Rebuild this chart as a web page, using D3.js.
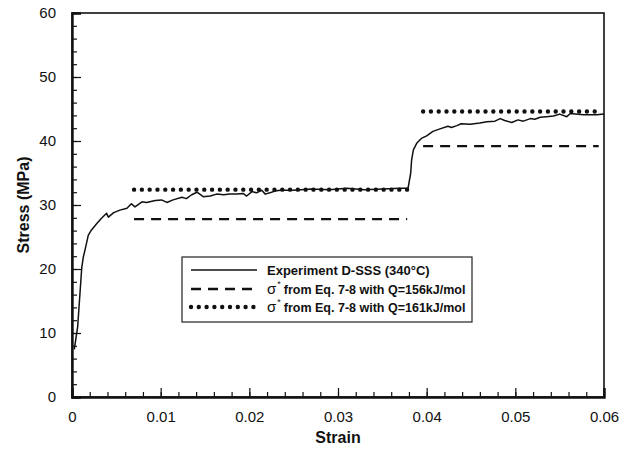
<!DOCTYPE html>
<html>
<head>
<meta charset="utf-8">
<script src="https://cdn.jsdelivr.net/npm/d3@7"></script>
<style>
  html, body { margin: 0; padding: 0; background: #fff; }
  svg { display: block; font-family: "Liberation Sans", Arial, Helvetica, sans-serif; }
</style>
</head>
<body>
<svg id="chart" width="639" height="451"></svg>
<script>
// Measured stress-strain curve (strain, stress in MPa)
const expStrain = [0.00026, 0.00064, 0.0009, 0.0011, 0.00128, 0.00147, 0.00184, 0.0022, 0.0028, 0.0033,
  0.0039, 0.0041, 0.0047, 0.0054, 0.0062, 0.0067, 0.0071, 0.0079, 0.0084, 0.0094,
  0.0101, 0.0107, 0.0114, 0.0124, 0.0129, 0.0135, 0.0141, 0.0148, 0.0156, 0.0163,
  0.0171, 0.0178, 0.0186, 0.0193, 0.0197, 0.0203, 0.0208, 0.0214, 0.0218, 0.0223,
  0.0229, 0.0235, 0.025, 0.027, 0.029, 0.031, 0.033, 0.035, 0.037, 0.0379,
  0.0382, 0.0383, 0.0385, 0.0389, 0.0394, 0.04, 0.0407, 0.0415, 0.0424, 0.0428,
  0.0434, 0.0439, 0.0449, 0.046, 0.0468, 0.0477, 0.0483, 0.0488, 0.0496, 0.0503,
  0.0509, 0.0517, 0.0522, 0.0528, 0.0535, 0.0543, 0.055, 0.0558, 0.0562, 0.0577,
  0.0592, 0.06];
const expStress = [7.45, 11, 16.2, 20.2, 21.9, 23, 25.3, 26.1, 27.1, 27.9,
  28.7, 28.1, 28.8, 29.2, 29.5, 30.2, 29.7, 30.5, 30.4, 30.7,
  30.8, 30.4, 30.8, 31.2, 31.0, 31.6, 32.0, 31.3, 31.4, 31.7,
  31.6, 31.7, 31.7, 31.8, 31.4, 32.1, 31.9, 32.3, 31.7, 31.9,
  32.2, 32.3, 32.3, 32.5, 32.4, 32.6, 32.4, 32.5, 32.6, 32.6,
  35, 37, 38.6, 39.7, 40.4, 40.8, 41.5, 41.9, 42.3, 42.1,
  42.4, 42.7, 42.6, 42.8, 43.0, 43.1, 43.5, 43.2, 42.9, 43.3,
  43.1, 43.5, 43.4, 43.7, 43.8, 43.9, 44.2, 43.8, 44.3, 44.1,
  44.1, 44.2];

// Model predictions of sigma* for two activation energies (one level per strain segment)
const segStart = [0.007, 0.0396];
const segEnd = [0.0378, 0.0594];
const sigmaQ156 = [27.8, 39.2];
const sigmaQ161 = [32.4, 44.6];

const xTicks = [0, 0.01, 0.02, 0.03, 0.04, 0.05, 0.06];
const yTicks = [0, 10, 20, 30, 40, 50, 60];
const legendLabels = ["Experiment D-SSS (340\u00B0C)", "from Eq. 7-8 with Q=156kJ/mol", "from Eq. 7-8 with Q=161kJ/mol"];

const svg = d3.select("#chart");
const m = { left: 72, top: 13, right: 604, bottom: 397 };

const x = d3.scaleLinear().domain([0, 0.06]).range([m.left, m.right]);
const y = d3.scaleLinear().domain([0, 60]).range([m.bottom, m.top]);

// frame
svg.append("rect")
  .attr("x", m.left).attr("y", m.top)
  .attr("width", m.right - m.left).attr("height", m.bottom - m.top)
  .attr("fill", "none").attr("stroke", "#111").attr("stroke-width", 1.6);

// inward ticks: majors with labels, minors unlabelled
const xMinor = d3.range(0, 0.0601, 0.002);
const yMinor = d3.range(0, 60.01, 2);

const xAxis = svg.append("g").attr("transform", `translate(0,${m.bottom})`)
  .call(d3.axisBottom(x).tickValues(xTicks).tickSize(-9).tickPadding(14)
    .tickFormat(d => d === 0 ? "0" : d3.format(".2f")(d)));
xAxis.append("g").call(d3.axisBottom(x).tickValues(xMinor).tickSize(-5).tickFormat(""))
  .select(".domain").remove();

const yAxis = svg.append("g").attr("transform", `translate(${m.left},0)`)
  .call(d3.axisLeft(y).tickValues(yTicks).tickSize(-9).tickPadding(16).tickFormat(d3.format("d")));
yAxis.append("g").call(d3.axisLeft(y).tickValues(yMinor).tickSize(-5).tickFormat(""))
  .select(".domain").remove();

svg.selectAll(".domain").attr("stroke", "#111").attr("stroke-width", 2.4);
svg.selectAll(".tick line").attr("stroke", "#111").attr("stroke-width", 1.2);
svg.selectAll(".tick text").attr("font-size", 15).attr("fill", "#111")
  .attr("font-family", "'Liberation Sans', Arial, sans-serif");

// axis titles
svg.append("text").attr("x", (m.left + m.right) / 2).attr("y", 443)
  .attr("text-anchor", "middle").attr("font-size", 16).attr("font-weight", "bold").attr("fill", "#111")
  .text("Strain");
svg.append("text").attr("transform", `translate(29,${(m.top + m.bottom) / 2}) rotate(-90)`)
  .attr("text-anchor", "middle").attr("font-size", 16).attr("font-weight", "bold").attr("fill", "#111")
  .text("Stress (MPa)");

// model levels
const dashStyle = { dash: "10 7", width: 2.4, cap: "butt" };
const dotStyle = { dash: "0 7.8", width: 4.4, cap: "round" };

segStart.forEach((s, i) => {
  svg.append("line")
    .attr("x1", x(s)).attr("x2", x(segEnd[i]))
    .attr("y1", y(sigmaQ156[i])).attr("y2", y(sigmaQ156[i]))
    .attr("stroke", "#111").attr("stroke-width", dashStyle.width)
    .attr("stroke-dasharray", dashStyle.dash);
  svg.append("line")
    .attr("x1", x(s)).attr("x2", x(segEnd[i]))
    .attr("y1", y(sigmaQ161[i])).attr("y2", y(sigmaQ161[i]))
    .attr("stroke", "#111").attr("stroke-width", dotStyle.width)
    .attr("stroke-linecap", dotStyle.cap)
    .attr("stroke-dasharray", dotStyle.dash);
});

// experimental curve
const line = d3.line().x((d, i) => x(expStrain[i])).y(d => y(d));
svg.append("path").datum(expStress)
  .attr("d", line)
  .attr("fill", "none").attr("stroke", "#111").attr("stroke-width", 1.5)
  .attr("stroke-linejoin", "round");

// legend
const lg = { x: 182, y: 257, w: 290, h: 65 };
svg.append("rect").attr("x", lg.x).attr("y", lg.y).attr("width", lg.w).attr("height", lg.h)
  .attr("fill", "#fff").attr("stroke", "#222").attr("stroke-width", 1.2);

const rowY = [270, 289, 307];
const styles = [
  { dash: null, width: 1.5, cap: "butt" },
  dashStyle,
  dotStyle
];
rowY.forEach((ry, i) => {
  const st = styles[i];
  const ln = svg.append("line").attr("x1", 191).attr("x2", 257).attr("y1", ry).attr("y2", ry)
    .attr("stroke", "#111").attr("stroke-width", st.width).attr("stroke-linecap", st.cap);
  if (st.dash) ln.attr("stroke-dasharray", st.dash);
  const t = svg.append("text").attr("x", 267).attr("y", ry + 4.5)
    .attr("font-size", 13).attr("font-weight", "bold").attr("fill", "#111");
  if (i === 0) {
    t.text(legendLabels[i]);
  } else {
    t.attr("font-size", 12.5);
    t.append("tspan").attr("font-weight", "normal").attr("font-size", 15).text("\u03C3");
    t.append("tspan").attr("font-weight", "normal").attr("font-size", 9).attr("dy", -7).attr("dx", 1).text("*");
    t.append("tspan").attr("dy", 7).attr("dx", 3).text(legendLabels[i]);
  }
});
</script>
</body>
</html>
